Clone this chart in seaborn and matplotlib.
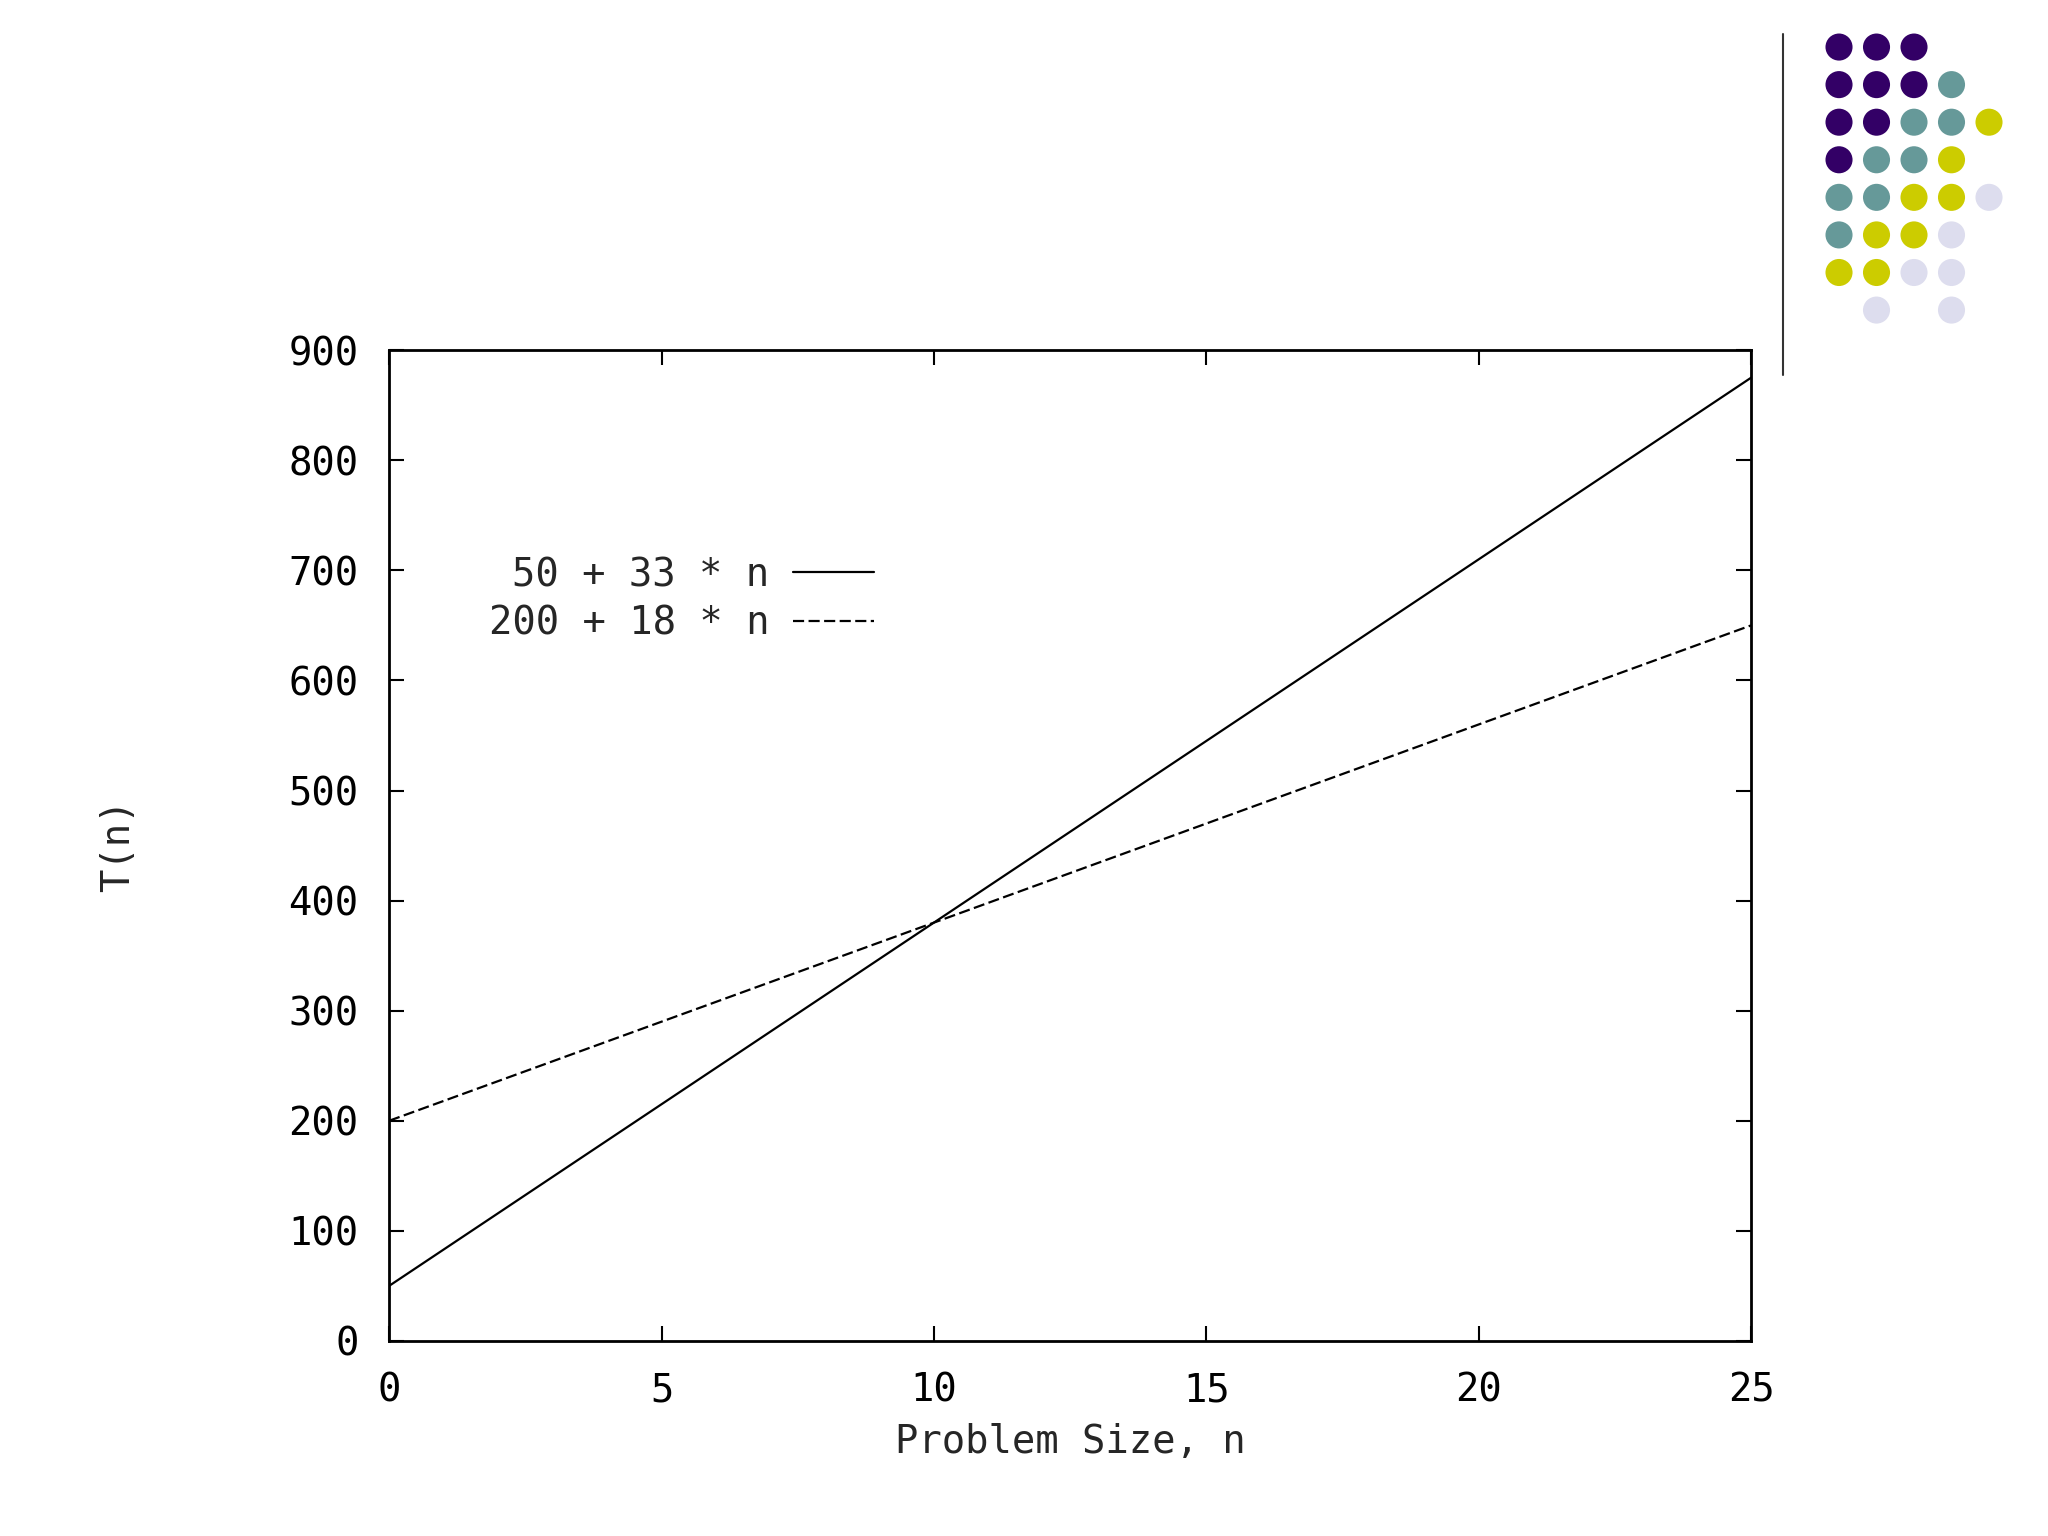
#!/usr/bin/env python3
"""
Linear cost comparison: two T(n) lines, gnuplot-like look
"""

import pandas as pd
import matplotlib.pyplot as plt
import matplotlib.lines as mlines
import seaborn as sns

# Data
n_values = [0, 25]
t_a = [50, 875]      # 50 + 33 * n
t_b = [200, 650]     # 200 + 18 * n
labels = ['50 + 33 * n', '200 + 18 * n']
x_ticks = [0, 5, 10, 15, 20, 25]
y_ticks = [0, 100, 200, 300, 400, 500, 600, 700, 800, 900]

# Decorative dot grid (P purple, T teal, Y yellow, L lavender)
dot_rows = ['PPP..', 'PPPT.', 'PPTTY', 'PTTY.', 'TTYYL', 'TYYL.', 'YYLL.', '.L.L.']
dot_colors = {'P': '#330066', 'T': '#669999', 'Y': '#CCCC00', 'L': '#DDDDEE'}

sns.set_style('ticks')
plt.rcParams['font.family'] = ['DejaVu Sans Mono']
fs = 28

df = pd.DataFrame({'n': n_values * 2,
                   'T': t_a + t_b,
                   'series': [labels[0]] * 2 + [labels[1]] * 2})

fig = plt.figure(figsize=(20.48, 15.36), dpi=100)
ax = fig.add_axes([0.190, 0.127, 0.665, 0.645])

sns.lineplot(data=df[df['series'] == labels[0]], x='n', y='T', ax=ax,
             color='black', linewidth=1.6)
sns.lineplot(data=df[df['series'] == labels[1]], x='n', y='T', ax=ax,
             color='black', linewidth=1.6, linestyle=(0, (5, 2)))

ax.set_xlim(0, 25)
ax.set_ylim(0, 900)
ax.set_xticks(x_ticks)
ax.set_yticks(y_ticks)
ax.tick_params(direction='in', length=11, width=1.5, top=True, right=True,
               labelsize=fs, colors='black')
ax.tick_params(axis='y', pad=22)
ax.tick_params(axis='x', pad=22)
for s in ax.spines.values():
    s.set_visible(True)
    s.set_linewidth(2)
    s.set_color('black')

ax.set_xlabel('Problem Size, n', fontsize=fs, labelpad=10)
ax.set_ylabel('T(n)', fontsize=fs)
ax.yaxis.set_label_coords(-0.185, 0.5)

handles = [mlines.Line2D([], [], color='black', linewidth=1.6),
           mlines.Line2D([], [], color='black', linewidth=1.6, linestyle=(0, (5, 2)))]
ax.legend(handles, labels, loc='upper right', bbox_to_anchor=(0.427, 0.638),
          bbox_transform=fig.transFigure, frameon=False, markerfirst=False,
          fontsize=fs, handlelength=2.1, handletextpad=0.6, labelspacing=0.28,
          borderpad=0, borderaxespad=0)

# Decoration: vertical rule and dot grid
fig.add_artist(mlines.Line2D([0.8706, 0.8706], [0.756, 0.978],
                             transform=fig.transFigure, color='#333333', linewidth=1.5))

dots = pd.DataFrame([(c, r, dot_colors[ch])
                     for r, row in enumerate(dot_rows)
                     for c, ch in enumerate(row) if ch != '.'],
                    columns=['col', 'row', 'color'])
dax = fig.add_axes([0.8888, 0.7859, 0.09155, 0.1957])
dax.scatter(dots['col'], dots['row'], c=dots['color'], s=380, linewidths=0)
dax.set_xlim(-0.5, 4.5)
dax.set_ylim(7.5, -0.5)
dax.axis('off')

plt.savefig('out.png', dpi=100)
plt.close()
